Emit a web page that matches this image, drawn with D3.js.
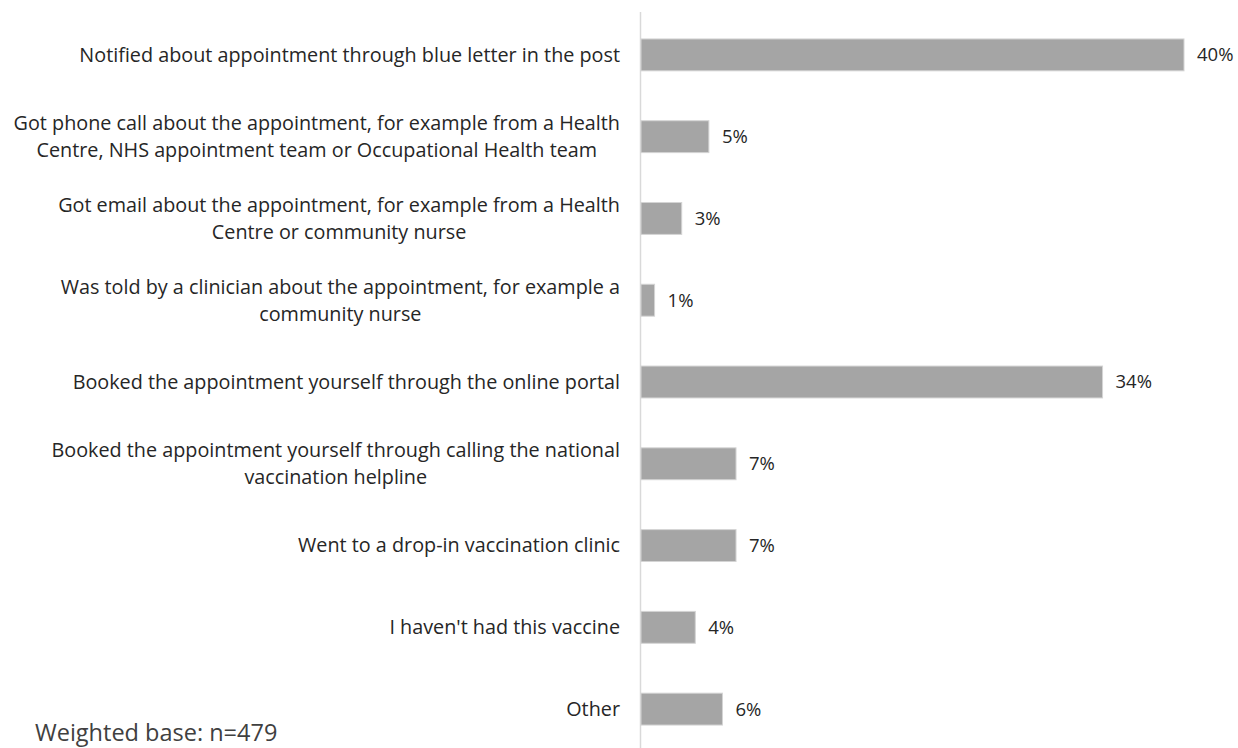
<!DOCTYPE html>
<html>
<head>
<meta charset="utf-8">
<script src="https://cdn.jsdelivr.net/npm/d3@7"></script>
<style>
  html, body { margin: 0; padding: 0; background: #ffffff; }
  svg { display: block; }
  text { font-family: "Open Sans", Lato, sans-serif; }
</style>
</head>
<body>
<svg id="chart" width="1238" height="748"></svg>
<script>
// How respondents were notified about / booked their vaccination appointment (%)
const categories = [
  ["Notified about appointment through blue letter in the post"],
  ["Got phone call about the appointment, for example from a Health", "Centre, NHS appointment team or Occupational Health team"],
  ["Got email about the appointment, for example from a Health", "Centre or community nurse"],
  ["Was told by a clinician about the appointment, for example a", "community nurse"],
  ["Booked the appointment yourself through the online portal"],
  ["Booked the appointment yourself through calling the national", "vaccination helpline"],
  ["Went to a drop-in vaccination clinic"],
  ["I haven't had this vaccine"],
  ["Other"]
];
const values = [40, 5, 3, 1, 34, 7, 7, 4, 6];
const baseNote = "Weighted base: n=479";

const svg = d3.select("#chart");
const W = 1238, H = 748;
const axisX = 641;

const ids = categories.map((_, i) => i);
const y = d3.scaleBand().domain(ids).range([14, 750]).paddingInner(0.61).paddingOuter(0.305);
const x = d3.scaleLinear().domain([0, 40]).range([axisX, 1184]);

// category axis line
svg.append("line")
  .attr("x1", axisX - 0.5).attr("x2", axisX - 0.5)
  .attr("y1", 12).attr("y2", H)
  .attr("stroke", "#d9d9d9").attr("stroke-width", 1.5);

// bars
svg.append("g").selectAll("rect")
  .data(ids)
  .join("rect")
  .attr("x", x(0))
  .attr("y", i => y(i))
  .attr("width", i => x(values[i]) - x(0))
  .attr("height", y.bandwidth())
  .attr("fill", "#a5a5a5")
  .attr("stroke", "#d4d4d4")
  .attr("stroke-width", 1);

// value labels
svg.append("g").selectAll("text")
  .data(ids)
  .join("text")
  .attr("x", i => x(values[i]) + 13)
  .attr("y", i => y(i) + y.bandwidth() / 2)
  .attr("dy", "0.35em")
  .attr("font-size", 18.5)
  .attr("fill", "#262626")
  .text(i => values[i] + "%");

// category labels (right-aligned, wrapped lines)
const lineH = 27;
const lbl = svg.append("g").selectAll("text")
  .data(ids)
  .join("text")
  .attr("text-anchor", "end")
  .attr("font-size", 19.8)
  .attr("fill", "#262626")
  .attr("transform", i => `translate(620,${y(i) + y.bandwidth() / 2})`);

lbl.each(function(i) {
  const lines = categories[i];
  const t = d3.select(this);
  const off = -(lines.length - 1) * lineH / 2;
  lines.forEach((ln, k) => {
    t.append("tspan")
      .attr("x", 0)
      .attr("y", off + k * lineH)
      .attr("dy", "0.35em")
      .attr("text-anchor", lines.length > 1 && k === lines.length - 1 ? "middle" : "end")
      .text(ln);
  });
});

// second lines of wrapped labels are centred under the first line
lbl.each(function(i) {
  const lines = categories[i];
  if (lines.length < 2) return;
  const spans = d3.select(this).selectAll("tspan").nodes();
  const w0 = spans[0].getComputedTextLength();
  spans.slice(1).forEach(s => d3.select(s).attr("x", -w0 / 2));
});

// base note
svg.append("text")
  .attr("x", 35)
  .attr("y", 741)
  .attr("font-size", 23.5)
  .attr("fill", "#404040")
  .text(baseNote);
</script>
</body>
</html>
